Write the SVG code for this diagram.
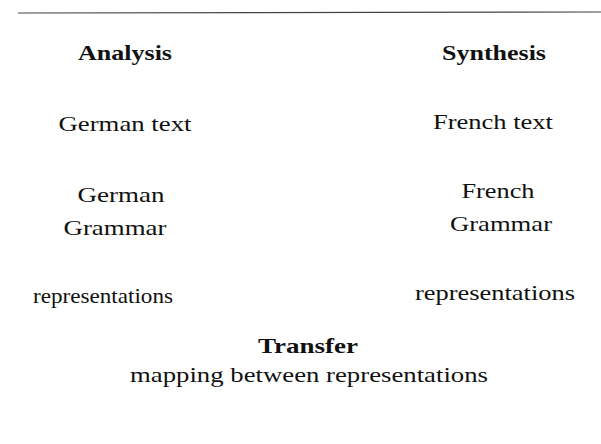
<svg xmlns="http://www.w3.org/2000/svg" width="601" height="444" viewBox="0 0 601 444">
<style>
text{font-family:"Liberation Serif","Times New Roman",serif;font-size:22px;fill:#111;text-anchor:middle}
.b{font-weight:bold}
</style>
<rect width="601" height="444" fill="#fff"/>
<line x1="18" y1="13" x2="601" y2="12" stroke="#444" stroke-width="1.2"/>
<g id="analysis"><text class="b" x="125" y="60" textLength="94" lengthAdjust="spacingAndGlyphs">Analysis</text></g>
<g id="synthesis"><text class="b" x="494" y="60" textLength="104" lengthAdjust="spacingAndGlyphs">Synthesis</text></g>
<g id="german-text"><text x="125" y="131" textLength="133" lengthAdjust="spacingAndGlyphs">German text</text></g>
<g id="french-text"><text x="493" y="129" textLength="120" lengthAdjust="spacingAndGlyphs">French text</text></g>
<g id="german-grammar"><text x="121" y="202" textLength="87" lengthAdjust="spacingAndGlyphs">German</text><text x="115" y="235" textLength="103" lengthAdjust="spacingAndGlyphs">Grammar</text></g>
<g id="french-grammar"><text x="498" y="198" textLength="73" lengthAdjust="spacingAndGlyphs">French</text><text x="501" y="231" textLength="102" lengthAdjust="spacingAndGlyphs">Grammar</text></g>
<g id="german-repr"><text x="103" y="303" textLength="140" lengthAdjust="spacingAndGlyphs">representations</text></g>
<g id="french-repr"><text x="495" y="300" textLength="160" lengthAdjust="spacingAndGlyphs">representations</text></g>
<g id="transfer"><text class="b" x="308" y="353" textLength="100" lengthAdjust="spacingAndGlyphs">Transfer</text><text x="309" y="382" textLength="358" lengthAdjust="spacingAndGlyphs">mapping between representations</text></g>
<g id="connectors"></g>
</svg>
